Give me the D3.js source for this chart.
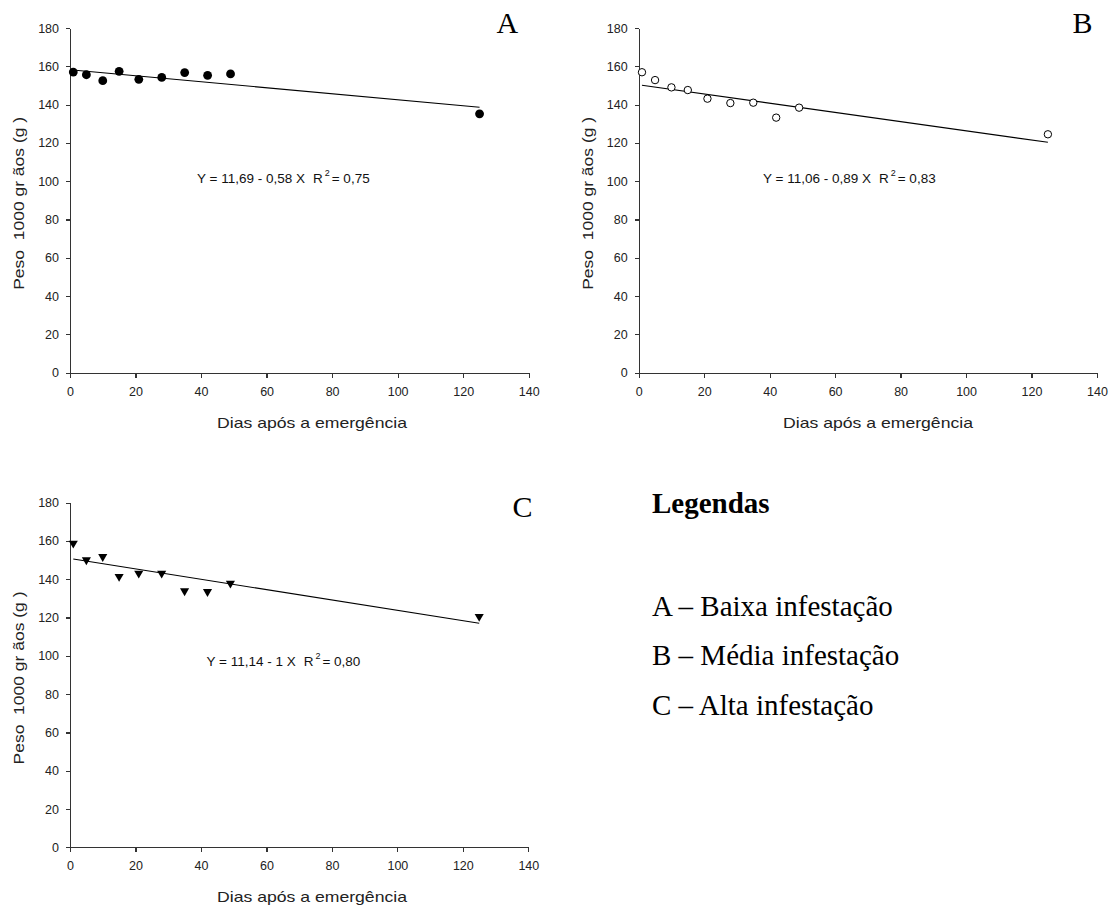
<!DOCTYPE html>
<html>
<head>
<meta charset="utf-8">
<script src="https://cdn.jsdelivr.net/npm/d3@7"></script>
<style>
  body { margin: 0; background: #fff; }
  svg { display: block; }
  .axis path, .axis line { stroke: #333; stroke-width: 1.2; shape-rendering: crispEdges; }
  .axis text { font-family: "Liberation Sans", Arial, sans-serif; font-size: 12.5px; fill: #222; }
  .label { font-family: "Liberation Sans", Arial, sans-serif; font-size: 15px; fill: #222; }
  .eq { font-family: "Liberation Sans", Arial, sans-serif; font-size: 13.5px; fill: #111; }
  .letter { font-family: "Liberation Serif", "Times New Roman", serif; font-size: 30px; fill: #000; }
  .legend { font-family: "Liberation Serif", "Times New Roman", serif; font-size: 29px; fill: #000; }
</style>
</head>
<body>
<svg width="1113" height="911"></svg>
<script>
// **** data ****
var days = [1, 5, 10, 15, 21, 28, 35, 42, 49, 125];
var weightA = [157, 155.6, 152.5, 157.4, 153.2, 154.2, 156.7, 155.3, 156, 135.2];
var weightB = [156.9, 152.8, 149, 147.6, 143.1, 140.8, 141, 133.2, 138.4, 124.5];
var weightC = [158.8, 150.1, 151.8, 141.4, 143.1, 143.1, 133.9, 133.5, 137.9, 120.5];

// fitted lines (end points as drawn)
var fitA = [[0, 158.2], [125, 138.6]];
var fitB = [[1, 150.1], [125, 120.3]];
var fitC = [[1, 150.6], [125, 117]];

var xTicks = [0, 20, 40, 60, 80, 100, 120, 140];
var yTicks = [0, 20, 40, 60, 80, 100, 120, 140, 160, 180];

var legendTitle = 'Legendas';
var legendItems = ['A \u2013 Baixa infesta\u00e7\u00e3o', 'B \u2013 M\u00e9dia infesta\u00e7\u00e3o', 'C \u2013 Alta infesta\u00e7\u00e3o'];

var svg = d3.select('svg');

// **** one panel ****
function drawPanel(p) {
    var xScale = d3.scaleLinear().domain([0, 140]).range([p.left, p.right]);
    var yScale = d3.scaleLinear().domain([0, 180]).range([p.bottom, p.top]);

    svg.append('g').attr('class', 'x axis')
        .attr('transform', 'translate(0,' + p.bottom + ')')
        .call(d3.axisBottom(xScale).tickValues(xTicks).tickSize(5).tickSizeOuter(0).tickPadding(9));

    svg.append('g').attr('class', 'y axis')
        .attr('transform', 'translate(' + p.left + ',0)')
        .call(d3.axisLeft(yScale).tickValues(yTicks).tickSize(4).tickSizeOuter(0).tickPadding(7));

    // fit line
    svg.append('path')
        .datum(p.fit)
        .attr('fill', 'none')
        .attr('stroke', '#000')
        .attr('stroke-width', 1.1)
        .attr('d', d3.line().x(function(d){ return xScale(d[0]); }).y(function(d){ return yScale(d[1]); }));

    var pts = days.map(function(d, i){ return { x: d, y: p.values[i] }; });
    var marks = svg.selectAll('.pt' + p.name)
        .data(pts)
        .enter()
        .append('g')
        .attr('class', 'pt' + p.name)
        .attr('transform', function(d){
            return 'translate(' + xScale(d.x) + ',' + yScale(d.y) + ')';
        });

    if (p.marker === 'filled') {
        marks.append('circle').attr('r', 4.4).attr('fill', '#000');
    } else if (p.marker === 'open') {
        marks.append('circle').attr('r', 3.7).attr('fill', '#fff').attr('stroke', '#000').attr('stroke-width', 1);
    } else {
        marks.append('path')
            .attr('d', d3.symbol().type(d3.symbolTriangle).size(36))
            .attr('transform', 'rotate(180)')
            .attr('fill', '#000');
    }

    // axis titles
    svg.append('text').attr('class', 'label')
        .attr('text-anchor', 'middle')
        .attr('x', p.xTitleX)
        .attr('y', p.bottom + 55)
        .attr('textLength', 190)
        .attr('lengthAdjust', 'spacingAndGlyphs')
        .text('Dias ap\u00f3s a emerg\u00eancia');

    svg.append('text').attr('class', 'label')
        .attr('text-anchor', 'middle')
        .attr('xml:space', 'preserve')
        .attr('textLength', 173)
        .attr('lengthAdjust', 'spacingAndGlyphs')
        .attr('transform', 'translate(' + (p.left - 46) + ',' + ((p.top + p.bottom) / 2 + 3) + ') rotate(-90)')
        .text('Peso  1000 gr \u00e3os (g )');

    // equation
    var eq = svg.append('text').attr('class', 'eq')
        .attr('x', p.eqX).attr('y', p.eqY);
    eq.append('tspan').text(p.eq);
    eq.append('tspan').attr('dx', 8).text('R');
    eq.append('tspan').attr('dx', 2).attr('dy', -7).attr('font-size', '9px').text('2');
    eq.append('tspan').attr('dx', 2).attr('dy', 7).text('= ' + p.r2);

    // panel letter
    svg.append('text').attr('class', 'letter')
        .attr('x', p.letterX).attr('y', p.letterY)
        .text(p.name);
}

drawPanel({ name: 'A', values: weightA, fit: fitA, marker: 'filled',
    left: 70, right: 528.7, top: 28, bottom: 372.7, xTitleX: 312,
    eq: 'Y = 11,69 - 0,58 X', r2: '0,75', eqX: 197, eqY: 183,
    letterX: 496.5, letterY: 33 });

drawPanel({ name: 'B', values: weightB, fit: fitB, marker: 'open',
    left: 638.7, right: 1097, top: 28, bottom: 372.7, xTitleX: 878,
    eq: 'Y = 11,06 - 0,89 X', r2: '0,83', eqX: 763, eqY: 183,
    letterX: 1072.5, letterY: 33 });

drawPanel({ name: 'C', values: weightC, fit: fitC, marker: 'triangle',
    left: 70, right: 528.3, top: 502.7, bottom: 847.3, xTitleX: 312,
    eq: 'Y = 11,14 - 1 X', r2: '0,80', eqX: 206.5, eqY: 666,
    letterX: 512.5, letterY: 516.5 });

// **** legend ****
svg.append('text').attr('class', 'legend')
    .attr('x', 652).attr('y', 513)
    .attr('font-weight', 'bold')
    .text(legendTitle);

svg.selectAll('.legitem')
    .data(legendItems)
    .enter()
    .append('text')
    .attr('class', 'legend legitem')
    .attr('x', 652)
    .attr('y', function(d, i){ return 615.5 + i * 49.8; })
    .text(function(d){ return d; });
</script>
</body>
</html>
